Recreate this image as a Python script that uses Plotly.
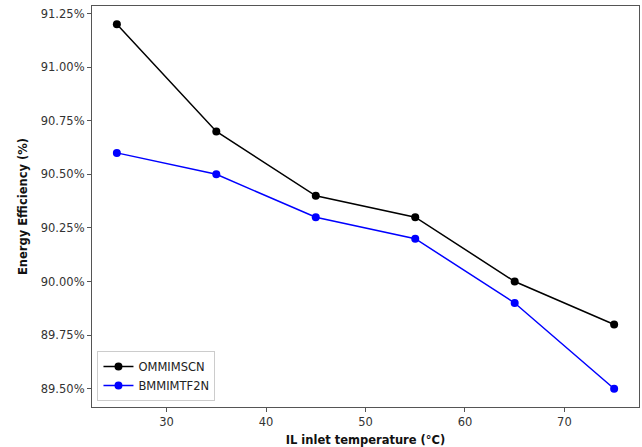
import plotly.graph_objects as go

temperature = [25, 35, 45, 55, 65, 75]
ommimscn = [91.20, 90.70, 90.40, 90.30, 90.00, 89.80]
bmmimtf2n = [90.60, 90.50, 90.30, 90.20, 89.90, 89.50]
x_ticks = [30, 40, 50, 60, 70]
y_ticks = [89.50, 89.75, 90.00, 90.25, 90.50, 90.75, 91.00, 91.25]
y_tick_labels = ["89.50%", "89.75%", "90.00%", "90.25%", "90.50%", "90.75%", "91.00%", "91.25%"]

fig = go.Figure()
fig.add_trace(go.Scatter(x=temperature, y=ommimscn, mode="lines+markers", name="OMMIMSCN",
                         line=dict(color="black", width=1.5), marker=dict(color="black", size=8)))
fig.add_trace(go.Scatter(x=temperature, y=bmmimtf2n, mode="lines+markers", name="BMMIMTF2N",
                         line=dict(color="blue", width=1.5), marker=dict(color="blue", size=8)))

font = dict(family="DejaVu Sans", size=11.5, color="#333333")
fig.update_layout(
    width=642, height=447,
    margin=dict(l=92, r=3, t=6, b=40),
    paper_bgcolor="white", plot_bgcolor="white",
    font=font,
    showlegend=True,
    legend=dict(x=0.01, y=0.015, xanchor="left", yanchor="bottom",
                bordercolor="#cccccc", borderwidth=1, bgcolor="rgba(255,255,255,0.8)",
                font=dict(family="DejaVu Sans", size=11.5, color="#222222"),
                tracegroupgap=0, itemwidth=30),
)
fig.update_xaxes(range=[22.5, 77.5], tickvals=x_ticks, showgrid=False, zeroline=False,
                 showline=True, linecolor="#555555", linewidth=1.2, mirror=True,
                 ticks="outside", ticklen=4, tickcolor="#555555",
                 title=dict(text="<b>IL inlet temperature (°C)</b>", standoff=8,
                            font=dict(family="DejaVu Sans", size=11.5, color="#111111")))
fig.update_yaxes(range=[89.415, 91.285], tickmode="array", tickvals=y_ticks, ticktext=y_tick_labels,
                 showgrid=False, zeroline=False,
                 showline=True, linecolor="#555555", linewidth=1.2, mirror=True,
                 ticks="outside", ticklen=4, tickcolor="#555555",
                 title=dict(text="<b>Energy Efficiency (%)</b>", standoff=10,
                            font=dict(family="DejaVu Sans", size=11.5, color="#111111")))

fig.write_html("out.html")
